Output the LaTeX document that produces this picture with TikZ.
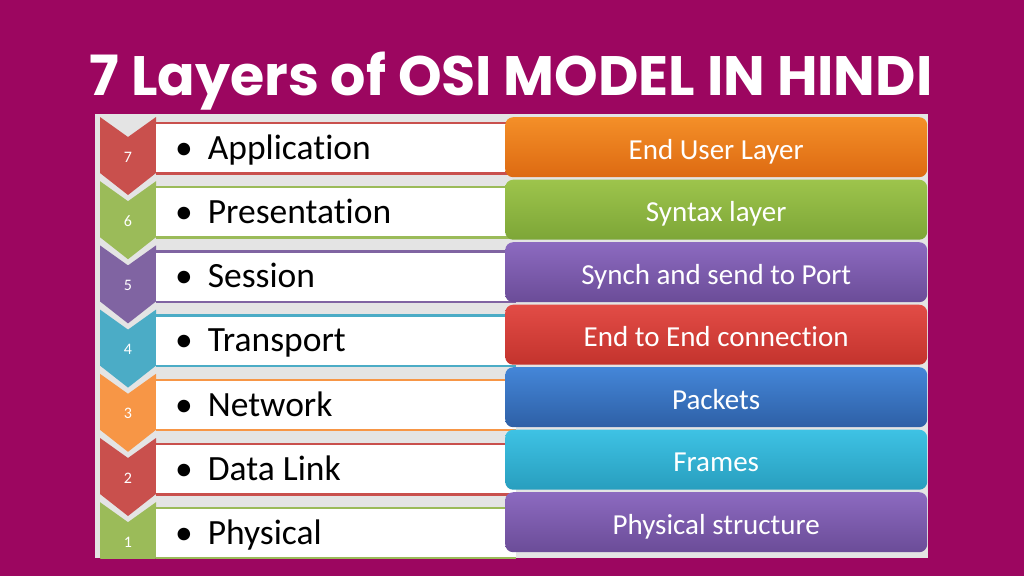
\documentclass[tikz,border=0pt]{standalone}
\usepackage{fontspec}
\setmainfont{Carlito}[Ligatures=NoCommon]
\newfontfamily\titlefont{Poppins}
\usepackage{tikz}
\usetikzlibrary{positioning, calc}
\definecolor{pagebg}{HTML}{9C0660}
\definecolor{panelgray}{HTML}{E4E4E4}
% chevrons and row lines
\definecolor{chev7}{HTML}{C9504D}
\definecolor{chev6}{HTML}{9BBB59}
\definecolor{chev5}{HTML}{8064A2}
\definecolor{chev4}{HTML}{4BACC6}
\definecolor{chev3}{HTML}{F79646}
\definecolor{chev2}{HTML}{C9504D}
\definecolor{chev1}{HTML}{9BBB59}
% right boxes
\definecolor{roletop7}{HTML}{F48F28}
\definecolor{rolebot7}{HTML}{DD6A12}
\definecolor{roletop6}{HTML}{9DC44C}
\definecolor{rolebot6}{HTML}{7DA637}
\definecolor{roletop5}{HTML}{8C6AC0}
\definecolor{rolebot5}{HTML}{6B4C98}
\definecolor{roletop4}{HTML}{E24C46}
\definecolor{rolebot4}{HTML}{C3332D}
\definecolor{roletop3}{HTML}{4486D8}
\definecolor{rolebot3}{HTML}{2E60A6}
\definecolor{roletop2}{HTML}{3EC2E4}
\definecolor{rolebot2}{HTML}{289EBE}
\definecolor{roletop1}{HTML}{8C6AC0}
\definecolor{rolebot1}{HTML}{6B4C98}

\tikzset{
  rowbox/.style={fill=white, inner sep=0pt, minimum width=360pt, minimum height=50pt},
  layertext/.style={inner sep=0pt, font=\fontsize{35.5}{37}\selectfont, text=black},
  numtext/.style={inner sep=0pt, font=\fontsize{16}{16}\selectfont, text=white},
  rolebox/.style={rounded corners=8pt, inner sep=0pt, minimum width=422pt, minimum height=60pt},
  roletext/.style={inner sep=0pt, font=\fontsize{29}{30}\selectfont, text=white},
  titletext/.style={inner sep=0pt, font=\titlefont\bfseries\fontsize{55.5}{57}\selectfont, text=white}
}

\begin{document}
\begin{tikzpicture}[x=1pt, y=-1pt]
  \useasboundingbox (0,0) rectangle (1024,576);
  \fill[pagebg] (0,0) rectangle (1024,576);

  \node[titletext, anchor=base] (title) at (511,95) {7 Layers of OSI MODEL IN HINDI};

  \fill[panelgray] (95,114) rectangle (928,558);
  \begin{scope}
    \clip (95,114) rectangle (928,558);
    \foreach \n/\layer/\role [count=\i from 0] in {
        7/Application/End User Layer,
        6/Presentation/Syntax layer,
        5/Session/Synch and send to Port,
        4/Transport/End to End connection,
        3/Network/Packets,
        2/Data Link/Frames,
        1/Physical/Physical structure} {
      \pgfmathsetmacro\lt{123+64.2*\i}
      \pgfmathsetmacro\lb{\lt+50}
      \pgfmathsetmacro\rt{117+62.5*\i}
      % chevron with number
      \fill[chev\n] (100,\lt-6) -- (128,\lt+14) -- (156,\lt-6) -- (156,\lb)
        -- (128,\lb+22) -- (100,\lb) -- cycle;
      \node[numtext] (num\n) at (128,\lt+34) {\n};
      % white row
      \node[rowbox, anchor=north west] (row\n) at (156,\lt) {};
      \draw[chev\n, line width=2.5pt] (row\n.north west) -- (row\n.north east);
      \draw[chev\n, line width=2.5pt] (row\n.south west) -- (row\n.south east);
      \node[layertext, anchor=base west] (layer\n) at ($(row\n.west)+(19,11)$)
        {\textbullet\hspace{15pt}\layer};
      % coloured box
      \node[rolebox, top color=roletop\n, bottom color=rolebot\n, anchor=north west]
        (role\n) at (505,\rt) {};
      \node[roletext, anchor=base] (roletxt\n) at ($(role\n.center)+(0,12)$) {\role};
    }
  \end{scope}
\end{tikzpicture}
\end{document}
